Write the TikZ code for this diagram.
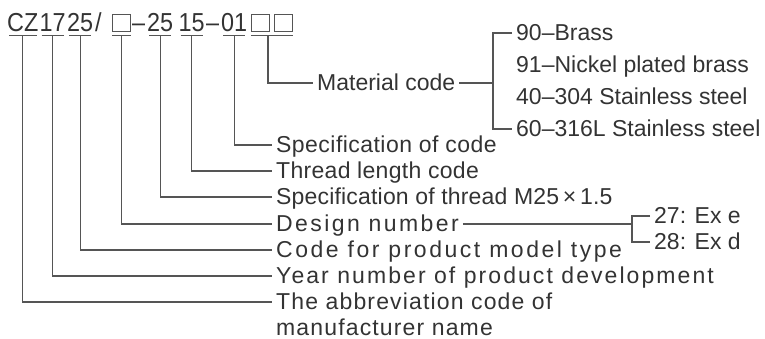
\documentclass[tikz,border=0pt]{standalone}
\usepackage{fontspec}
\setmainfont{Liberation Sans}
\newfontfamily\lsA{Liberation Sans}[LetterSpace=2]
\newfontfamily\lsB{Liberation Sans}[LetterSpace=1.3]
\newfontfamily\lsC{Liberation Sans}[LetterSpace=0.8]
\newfontfamily\lsD{Liberation Sans}[LetterSpace=10.5]
\newfontfamily\lsE{Liberation Sans}[LetterSpace=11]
\newfontfamily\lsF{Liberation Sans}[LetterSpace=9]
\newfontfamily\lsG{Liberation Sans}[LetterSpace=5]
\newfontfamily\ttlfont{Liberation Sans}[FakeStretch=0.9]
\usetikzlibrary{calc}
\definecolor{txt}{HTML}{333333}
\definecolor{ln}{HTML}{555555}
\begin{document}
\begin{tikzpicture}[x=1pt,y=-1pt,
  lbl/.style={anchor=west,inner xsep=4pt,inner ysep=0pt,text=txt,
    font=\fontsize{23}{26}\selectfont,text height=16pt,text depth=1pt},
  lsp/.style={lbl,font=#1\fontsize{23}{26}\selectfont},
  ttl/.style={anchor=base west,inner sep=0pt,text=txt,font=\ttlfont\fontsize{26}{28}\selectfont},
  sq/.style={draw=ln,line width=1pt,minimum width=18pt,minimum height=17pt,inner sep=0pt,anchor=south west},
  lead/.style={draw=ln,line width=1.2pt},
  uline/.style={draw=ln,line width=1.4pt}
]
\useasboundingbox (0,0) rectangle (765,339);

% title pieces
\node[ttl] (gCZ)  at (7,32)   {CZ};
\node[ttl] (g17)  at (39.5,32){17};
\node[ttl] (g25a) at (67,32)  {25};
\node[ttl] (gsl)  at (95,32)  {/};
\node[sq]  (b1)   at (112,32) {};
\node[ttl] (gd1)  at (132,32) {–};
\node[ttl] (g25b) at (147,32) {25};
\node[ttl] (g15)  at (178.5,32){15};
\node[ttl] (gd2)  at (206,32) {–};
\node[ttl] (g01)  at (221,32) {01};
\node[sq]  (b2)   at (251,32) {};
\node[sq]  (b3)   at (274,32) {};

% underlines
\foreach \n in {gCZ,g17,g25a,g25b,g15,g01}
  \draw[uline] ([xshift=2pt,yshift=-3.5pt]\n.base west) -- ([xshift=-2pt,yshift=-3.5pt]\n.base east);
\draw[uline] ([yshift=-3.5pt]b1.south west) -- ([yshift=-3.5pt]b1.south east);
\draw[uline] ([yshift=-3.5pt]b2.south west) -- ([yshift=-3.5pt]b3.south east);

% labels
\node[lbl]        (tMat)    at (313,83)  {Material code};
\node[lsp=\lsA]   (tSpec)   at (272,145) {Specification of code};
\node[lsp=\lsB]   (tLength) at (272,171) {Thread length code};
\node[lsp=\lsC]   (tThread) at (272,197) {Specification of thread M25\,×\,1.5};
\node[lsp=\lsD]   (tDesign) at (272,224) {Design number};
\node[lsp=\lsE]   (tCode)   at (272,250) {Code for product model type};
\node[lsp=\lsF]   (tYear)   at (272,276) {Year number of product development};
\node[lsp=\lsG]   (tAbbr)   at (272,302) {The abbreviation code of};
\node[lsp=\lsG]   (tManu)   at (272,328) {manufacturer name};

% material options
\node[lbl] (i1) at (512,33)  {90–Brass};
\node[lbl] (i2) at (512,65)  {91–Nickel plated brass};
\node[lbl] (i3) at (512,97)  {40–304 Stainless steel};
\node[lbl] (i4) at (512,129) {60–316L Stainless steel};

% design options
\node[lbl] (d1) at (650,216) {27: Ex e};
\node[lbl] (d2) at (650,242) {28: Ex d};

\coordinate (brM) at (493,0);
\coordinate (brD) at (632,0);

% leaders
\draw[lead] ([yshift=-3.5pt]gCZ.base)  |- (tAbbr.west);
\draw[lead] ([yshift=-3.5pt]g17.base)  |- (tYear.west);
\draw[lead] ([yshift=-3.5pt]g25a.base) |- (tCode.west);
\draw[lead] ([yshift=-3.5pt]b1.south)  |- (tDesign.west);
\draw[lead] ([yshift=-3.5pt]g25b.base) |- (tThread.west);
\draw[lead] ([yshift=-3.5pt]g15.base)  |- (tLength.west);
\draw[lead] ([yshift=-3.5pt]g01.base)  |- (tSpec.west);
\draw[lead] ([xshift=-2pt,yshift=-3.5pt]b2.south east) |- (tMat.west);

% brackets
\draw[lead] (tMat.east) -- (tMat.east -| brM);
\draw[lead] (i1.west) -- (i1.west -| brM) -- (i4.west -| brM) -- (i4.west);
\draw[lead] (tDesign.east) -- (tDesign.east -| brD);
\draw[lead] (d1.west) -- (d1.west -| brD) -- (d2.west -| brD) -- (d2.west);
\end{tikzpicture}
\end{document}
